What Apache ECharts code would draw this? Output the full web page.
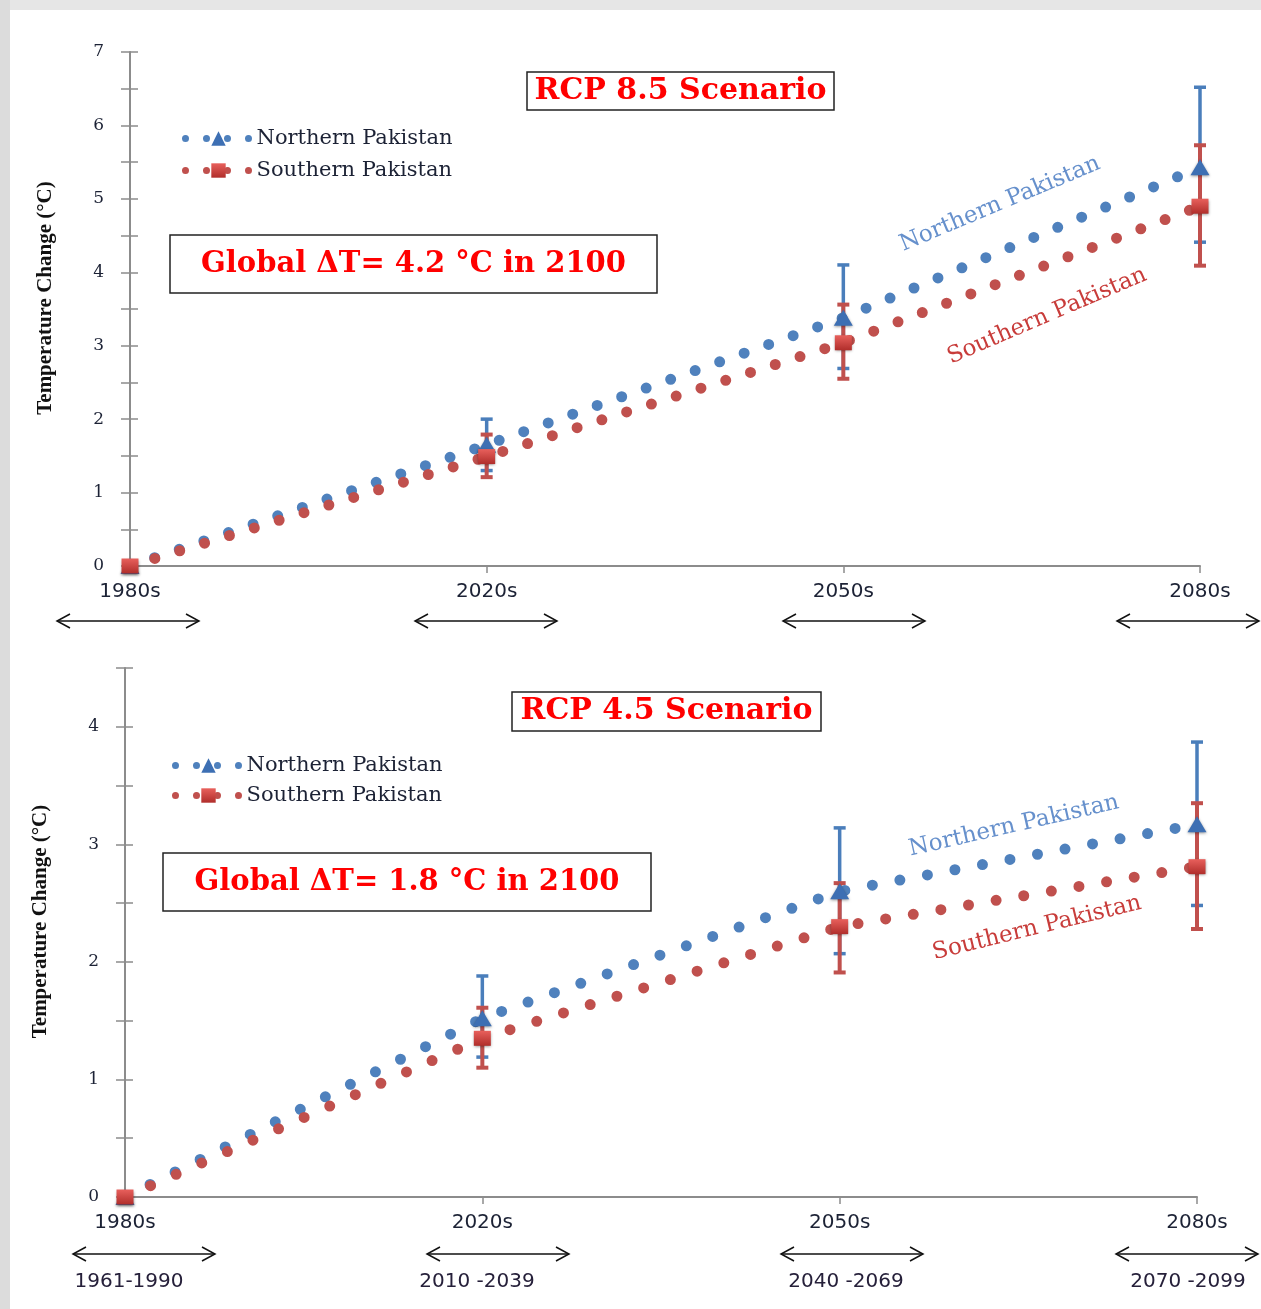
<!DOCTYPE html>
<html>
<head>
<meta charset="utf-8">
<script src="https://cdn.jsdelivr.net/npm/echarts@6/dist/echarts.min.js"></script>
<style>
  html, body { margin: 0; padding: 0; background: #fff; }
  #chart { width: 1261px; height: 1309px; }
</style>
</head>
<body>
<div id="chart"></div>
<script>
const periods = ['1980s', '2020s', '2050s', '2080s'];
const ranges = ['1961-1990', '2010 -2039', '2040 -2069', '2070 -2099'];

// RCP 8.5
const north85 = [0, 1.65, 3.38, 5.43];
const south85 = [0, 1.49, 3.04, 4.90];
const north85Low = [null, 1.30, 2.69, 4.41];
const north85High = [null, 2.00, 4.10, 6.52];
const south85Low = [null, 1.21, 2.55, 4.09];
const south85High = [null, 1.79, 3.56, 5.73];

// RCP 4.5
const north45 = [0, 1.52, 2.60, 3.17];
const south45 = [0, 1.35, 2.30, 2.81];
const north45Low = [null, 1.19, 2.07, 2.48];
const north45High = [null, 1.88, 3.14, 3.87];
const south45Low = [null, 1.10, 1.91, 2.28];
const south45High = [null, 1.61, 2.67, 3.35];

const BLUE = '#4a7ebb';
const RED = '#c0504d';
const AXIS = '#8c8c8c';

const grids = [
  { left: 130, right: 61, top: 52, height: 514 },
  { left: 125, right: 64, top: 668, height: 529 }
];

function errData(lo, hi) {
  const out = [];
  for (let i = 0; i < periods.length; i++) {
    if (lo[i] == null) continue;
    out.push([periods[i], lo[i], hi[i]]);
  }
  return out;
}

function errRender(color, w) {
  return function (params, api) {
    const x = api.value(0);
    const lo = api.coord([x, api.value(1)]);
    const hi = api.coord([x, api.value(2)]);
    const c = 6;
    const st = { stroke: color, lineWidth: w };
    return {
      type: 'group',
      children: [
        { type: 'line', shape: { x1: lo[0], y1: lo[1], x2: hi[0], y2: hi[1] }, style: st },
        { type: 'line', shape: { x1: lo[0] - c, y1: lo[1], x2: lo[0] + c, y2: lo[1] }, style: st },
        { type: 'line', shape: { x1: hi[0] - c, y1: hi[1], x2: hi[0] + c, y2: hi[1] }, style: st }
      ]
    };
  };
}

function lineSeries(name, data, idx, color, symbol, size, gap) {
  return {
    name: name,
    type: 'line',
    xAxisIndex: idx,
    yAxisIndex: idx,
    data: data,
    symbol: symbol,
    symbolSize: size,
    showAllSymbol: true,
    z: 3,
    itemStyle: symbol === 'rect'
      ? {
          color: new echarts.graphic.LinearGradient(0, 0, 0, 1, [
            { offset: 0, color: '#e8605c' }, { offset: 1, color: '#b02e2b' }
          ]),
          shadowBlur: 3, shadowColor: 'rgba(0,0,0,0.45)', shadowOffsetY: 1
        }
      : { color: '#3d6fb3', shadowBlur: 3, shadowColor: 'rgba(0,0,0,0.4)', shadowOffsetY: 1 },
    lineStyle: { color: color, width: 11, type: [0, gap], cap: 'round' }
  };
}

function yAxes(idx, max, name) {
  const g = grids[idx];
  const width = 1261 - g.left - g.right;
  return [{
    type: 'value', gridIndex: idx, position: 'left', min: 0, max: max, interval: 0.5,
    name: name, nameLocation: 'middle', nameGap: 74,
    nameTextStyle: { fontFamily: 'Liberation Serif', fontWeight: 'bold', fontSize: 21, color: '#111', padding: [0, 0, 0, 22] },
    axisLine: { show: true, lineStyle: { color: AXIS, width: 2 } },
    axisTick: { show: true, length: 9, lineStyle: { color: AXIS, width: 1.5 } },
    axisLabel: {
      margin: 26, fontFamily: 'DejaVu Serif', fontSize: 17, color: '#1c2235',
      formatter: v => (Number.isInteger(v) ? String(v) : '')
    },
    splitLine: { show: false }
  }, {
    // inner half of the crossing ticks: a right axis pulled back onto the left edge
    type: 'value', gridIndex: idx, position: 'right', offset: -width, min: 0, max: max, interval: 0.5,
    axisLine: { show: false },
    axisTick: { show: true, inside: false, length: 8, lineStyle: { color: AXIS, width: 1.5 } },
    axisLabel: { show: false },
    splitLine: { show: false }
  }];
}

function xAxis(idx) {
  return {
    type: 'category', gridIndex: idx, data: periods, boundaryGap: false,
    axisLine: { lineStyle: { color: AXIS, width: 2 } },
    axisTick: { length: 7, alignWithLabel: true, lineStyle: { color: AXIS, width: 1.5 } },
    axisLabel: { margin: 16, fontFamily: 'DejaVu Sans', fontSize: 20, color: '#1c2235' }
  };
}

const ya = yAxes(0, 7, 'Temperature Change (°C)');
const yb = yAxes(1, 4.5, 'Temperature Change (°C)');

function legend(left, top, gap) {
  return {
    left: left, top: top, orient: 'vertical',
    itemWidth: 66, itemHeight: 18, itemGap: gap,
    data: ['Northern Pakistan', 'Southern Pakistan'],
    lineStyle: { width: 7, type: [0, 21], cap: 'round' },
    textStyle: { fontFamily: 'DejaVu Serif', fontSize: 21, color: '#1c2235' },
    selectedMode: false
  };
}

function box(x, y, w, h, text, size) {
  return {
    type: 'group',
    children: [
      { type: 'rect', shape: { x: x, y: y, width: w, height: h },
        style: { fill: '#fff', stroke: '#222', lineWidth: 1.5 } },
      { type: 'text', x: x + w / 2, y: y + h / 2,
        style: { text: text, fill: '#ff0000', font: 'bold ' + size + 'px "DejaVu Serif"',
                 align: 'center', verticalAlign: 'middle' } }
    ]
  };
}

function slanted(x, y, deg, text, color) {
  return {
    type: 'text', x: x, y: y, rotation: deg * Math.PI / 180,
    style: { text: text, fill: color, font: '23px "DejaVu Serif"', align: 'center', verticalAlign: 'middle' }
  };
}

function arrow(cx, y, half) {
  const h = 13, v = 7;
  return {
    type: 'group',
    children: [
      { type: 'line', shape: { x1: cx - half, y1: y, x2: cx + half, y2: y }, style: { stroke: '#111', lineWidth: 1.5 } },
      { type: 'polyline', shape: { points: [[cx - half + h, y - v], [cx - half, y], [cx - half + h, y + v]] },
        style: { stroke: '#111', lineWidth: 1.5, fill: null } },
      { type: 'polyline', shape: { points: [[cx + half - h, y - v], [cx + half, y], [cx + half - h, y + v]] },
        style: { stroke: '#111', lineWidth: 1.5, fill: null } }
    ]
  };
}

const topArrows = [128, 486, 854, 1188];
const botArrows = [144, 498, 852, 1187];
const rangeX = [129, 477, 846, 1188];

const graphics = [
  { type: 'rect', shape: { x: 0, y: 0, width: 1261, height: 10 }, style: { fill: '#e6e6e6' } },
  { type: 'rect', shape: { x: 0, y: 0, width: 10, height: 1309 }, style: { fill: '#dcdcdc' } },
  box(527, 72, 307, 38, 'RCP 8.5 Scenario', 30),
  box(170, 235, 487, 58, 'Global ΔT= 4.2 °C in 2100', 29),
  box(512, 692, 309, 39, 'RCP 4.5 Scenario', 30),
  box(163, 853, 488, 58, 'Global ΔT= 1.8 °C in 2100', 29),
  slanted(1000, 204, 22.7, 'Northern Pakistan', '#6690cc'),
  slanted(1047, 316, 23.2, 'Southern Pakistan', '#c83c3a'),
  slanted(1014, 826, 12.8, 'Northern Pakistan', '#6690cc'),
  slanted(1037, 928, 13.7, 'Southern Pakistan', '#c83c3a')
];
topArrows.forEach(x => graphics.push(arrow(x, 621, 71)));
botArrows.forEach(x => graphics.push(arrow(x, 1254, 71)));
ranges.forEach((r, i) => graphics.push({
  type: 'text', x: rangeX[i], y: 1282,
  style: { text: r, fill: '#26203a', font: '20px "DejaVu Sans"', align: 'center', verticalAlign: 'middle' }
}));

const chart = echarts.init(document.getElementById('chart'));
chart.setOption({
  backgroundColor: '#fff',
  animation: false,
  grid: grids,
  xAxis: [xAxis(0), xAxis(1)],
  yAxis: [ya[0], yb[0], ya[1], yb[1]],
  legend: [legend(177, 123, 11), legend(167, 750, 9)],
  series: [
    { type: 'custom', xAxisIndex: 0, yAxisIndex: 0, z: 2, renderItem: errRender(BLUE, 3.5),
      encode: { x: 0, y: [1, 2] }, data: errData(north85Low, north85High) },
    { type: 'custom', xAxisIndex: 0, yAxisIndex: 0, z: 2, renderItem: errRender(RED, 4),
      encode: { x: 0, y: [1, 2] }, data: errData(south85Low, south85High) },
    lineSeries('Northern Pakistan', north85, 0, '#4f81bd', 'triangle', [19, 16], 26),
    lineSeries('Southern Pakistan', south85, 0, RED, 'rect', [17, 15], 26),
    { type: 'custom', xAxisIndex: 1, yAxisIndex: 1, z: 2, renderItem: errRender(BLUE, 3.5),
      encode: { x: 0, y: [1, 2] }, data: errData(north45Low, north45High) },
    { type: 'custom', xAxisIndex: 1, yAxisIndex: 1, z: 2, renderItem: errRender(RED, 4),
      encode: { x: 0, y: [1, 2] }, data: errData(south45Low, south45High) },
    lineSeries('Northern Pakistan', north45, 1, '#4f81bd', 'triangle', [19, 16], 28),
    lineSeries('Southern Pakistan', south45, 1, RED, 'rect', [17, 15], 28)
  ],
  graphic: graphics
});
</script>
</body>
</html>
